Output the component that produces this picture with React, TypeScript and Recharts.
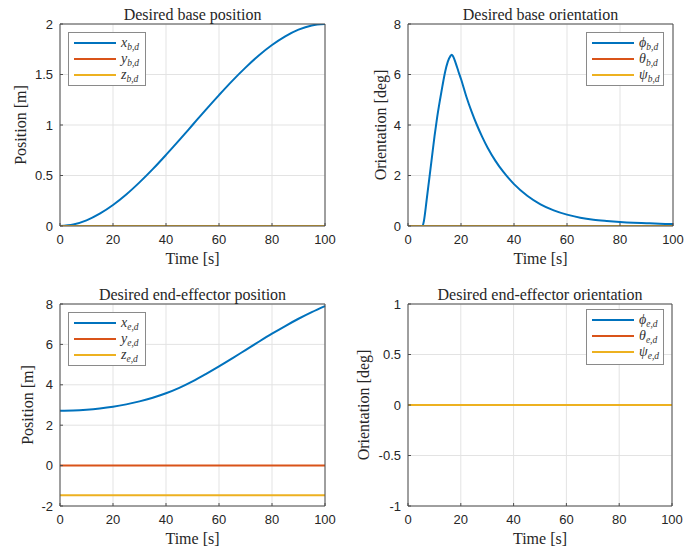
import React from "react";
import { CartesianGrid, Legend, Line, LineChart, XAxis, YAxis } from "recharts";

// MATLAB default colour order
const BLUE = "#0072BD";
const ORANGE = "#D95319";
const YELLOW = "#EDB120";

const timeTicks = [0, 20, 40, 60, 80, 100];
const flatT = [0, 100];

// desired base position
const basePosT = [0, 5, 10, 15, 20, 25, 30, 35, 40, 45, 50, 55, 60, 65, 70, 75, 80, 85, 90, 95, 100];
const basePosX = [0, 0.015, 0.056, 0.122, 0.208, 0.312, 0.432, 0.563, 0.704, 0.85, 1.0, 1.15, 1.296, 1.437, 1.568, 1.688, 1.792, 1.878, 1.944, 1.986, 2.0];
const basePosY = [0, 0];
const basePosZ = [0, 0];

// desired base orientation
const baseOriT = [0, 5.5, 6, 7, 8, 9, 10, 11, 12, 13, 14, 15, 16, 16.5, 17, 18, 19, 20, 22, 24, 26, 28, 30, 33, 36, 40, 45, 50, 55, 60, 65, 70, 75, 80, 85, 90, 95, 100];
const baseOriPhi = [0, 0, 0.2, 1.0, 1.85, 2.7, 3.55, 4.3, 4.95, 5.55, 6.1, 6.5, 6.73, 6.78, 6.72, 6.45, 6.13, 5.82, 5.13, 4.53, 4.0, 3.53, 3.11, 2.58, 2.14, 1.66, 1.2, 0.86, 0.62, 0.45, 0.33, 0.25, 0.2, 0.16, 0.13, 0.11, 0.09, 0.08];
const baseOriTheta = [0, 0];
const baseOriPsi = [0, 0];

// desired end-effector position
const eePosT = [0, 5, 10, 15, 20, 25, 30, 35, 40, 45, 50, 55, 60, 65, 70, 75, 80, 85, 90, 95, 100];
const eePosX = [2.72, 2.73, 2.765, 2.825, 2.91, 3.03, 3.18, 3.36, 3.58, 3.85, 4.17, 4.53, 4.91, 5.31, 5.72, 6.13, 6.53, 6.91, 7.27, 7.6, 7.9];
const eePosY = [0, 0];
const eePosZ = [-1.47, -1.47];

// desired end-effector orientation
const eeOriPhi = [0, 0];
const eeOriTheta = [0, 0];
const eeOriPsi = [0, 0];

const rows = (t: number[], v: number[]) => t.map((tt, i) => ({ t: tt, v: v[i] }));

const SERIF = '"Liberation Serif", "Times New Roman", serif';
const SANS = '"Liberation Sans", Arial, sans-serif';
const INK = "#262626";
const FRAME = "#4d4d4d";

interface Series {
  data: { t: number; v: number }[];
  color: string;
  sym: string;
  sub: string;
}

interface PanelProps {
  title: string;
  ylabel: string;
  yDomain: [number, number];
  yTicks: number[];
  series: Series[];
  plot: { left: number; right: number; top: number; bottom: number };
  ylabX: number;
  legend: { left: number; top: number; height: number };
}

const W = 350;
const H = 275;
const noLabel = () => <g />;

function LegendBox({ series, height }: { series: Series[]; height: number }) {
  return (
    <div
      style={{
        width: 78,
        height,
        boxSizing: "border-box",
        border: "1px solid #8a8a8a",
        background: "#fff",
        paddingTop: 2,
      }}
    >
      {series.map((s) => (
        <div key={s.sym} style={{ display: "flex", alignItems: "center", height: 16 }}>
          <div style={{ marginLeft: 5, width: 42, height: 2, background: s.color }} />
          <span
            style={{
              marginLeft: 5,
              fontFamily: SERIF,
              fontStyle: "italic",
              fontSize: 14,
              color: "#333",
              lineHeight: "16px",
              whiteSpace: "nowrap",
            }}
          >
            {s.sym}
            <span style={{ fontSize: 9.5, position: "relative", top: 3 }}>{s.sub}</span>
          </span>
        </div>
      ))}
    </div>
  );
}

function Panel({ title, ylabel, yDomain, yTicks, series, plot, ylabX, legend }: PanelProps) {
  return (
    <LineChart width={W} height={H} margin={{ top: 0, right: 0, bottom: 0, left: 0 }}>
      <CartesianGrid xAxisId="b" yAxisId="l" stroke="#e3e3e3" />
      <XAxis
        xAxisId="b"
        dataKey="t"
        type="number"
        domain={[0, 100]}
        ticks={timeTicks}
        interval={0}
        height={H - plot.bottom}
        axisLine={{ stroke: FRAME }}
        tickLine={{ stroke: FRAME }}
        tickSize={-3}
        tickMargin={12}
        tick={{ fontFamily: SANS, fontSize: 13, fill: INK }}
        label={(p: any) => (
          <text
            x={p.viewBox.x + p.viewBox.width / 2}
            y={p.viewBox.y + 32}
            textAnchor="middle"
            dominantBaseline="central"
            fontFamily={SERIF}
            fontSize={16}
            fill={INK}
          >
            Time [s]
          </text>
        )}
      />
      <XAxis
        xAxisId="t"
        orientation="top"
        dataKey="t"
        type="number"
        domain={[0, 100]}
        ticks={timeTicks}
        interval={0}
        height={plot.top}
        axisLine={{ stroke: FRAME }}
        tickLine={{ stroke: FRAME }}
        tickSize={-3}
        tick={noLabel}
        label={(p: any) => (
          <text
            x={p.viewBox.x + p.viewBox.width / 2}
            y={p.viewBox.y + p.viewBox.height - 10}
            textAnchor="middle"
            dominantBaseline="central"
            fontFamily={SERIF}
            fontSize={16}
            fill={INK}
          >
            {title}
          </text>
        )}
      />
      <YAxis
        yAxisId="l"
        type="number"
        domain={yDomain}
        ticks={yTicks}
        interval={0}
        width={plot.left}
        axisLine={{ stroke: FRAME }}
        tickLine={{ stroke: FRAME }}
        tickSize={-3}
        tickMargin={10}
        allowDataOverflow
        tick={{ fontFamily: SANS, fontSize: 13, fill: INK }}
        label={(p: any) => {
          const x = p.viewBox.x + ylabX;
          const y = p.viewBox.y + p.viewBox.height / 2;
          return (
            <text
              x={x}
              y={y}
              transform={`rotate(-90, ${x}, ${y})`}
              textAnchor="middle"
              dominantBaseline="central"
              fontFamily={SERIF}
              fontSize={16}
              fill={INK}
            >
              {ylabel}
            </text>
          );
        }}
      />
      <YAxis
        yAxisId="r"
        orientation="right"
        type="number"
        domain={yDomain}
        ticks={yTicks}
        interval={0}
        width={W - plot.right}
        axisLine={{ stroke: FRAME }}
        tickLine={{ stroke: FRAME }}
        tickSize={-3}
        tick={noLabel}
      />
      {series.map((s) => (
        <Line
          key={s.sym}
          xAxisId="b"
          yAxisId="l"
          data={s.data}
          dataKey="v"
          type="monotone"
          stroke={s.color}
          strokeWidth={2}
          dot={false}
          isAnimationActive={false}
        />
      ))}
      <Legend
        layout="vertical"
        align="center"
        verticalAlign="middle"
        wrapperStyle={{ left: legend.left, top: legend.top, width: 78, height: legend.height }}
        content={() => <LegendBox series={series} height={legend.height} />}
      />
    </LineChart>
  );
}

export default function App() {
  return (
    <div
      style={{
        position: "absolute",
        left: 0,
        top: 0,
        width: 700,
        height: 550,
        background: "#fff",
      }}
    >
      <div style={{ position: "absolute", left: 0, top: 0 }}>
        <Panel
          title="Desired base position"
          ylabel="Position [m]"
          yDomain={[0, 2]}
          yTicks={[0, 0.5, 1, 1.5, 2]}
          plot={{ left: 60, right: 325, top: 24, bottom: 226 }}
          ylabX={20}
          legend={{ left: 68, top: 32, height: 54 }}
          series={[
            { data: rows(basePosT, basePosX), color: BLUE, sym: "x", sub: "b,d" },
            { data: rows(flatT, basePosY), color: ORANGE, sym: "y", sub: "b,d" },
            { data: rows(flatT, basePosZ), color: YELLOW, sym: "z", sub: "b,d" },
          ]}
        />
      </div>
      <div style={{ position: "absolute", left: 350, top: 0 }}>
        <Panel
          title="Desired base orientation"
          ylabel="Orientation [deg]"
          yDomain={[0, 8]}
          yTicks={[0, 2, 4, 6, 8]}
          plot={{ left: 58, right: 323, top: 24, bottom: 226 }}
          ylabX={30}
          legend={{ left: 236, top: 32, height: 54 }}
          series={[
            { data: rows(baseOriT, baseOriPhi), color: BLUE, sym: "ϕ", sub: "b,d" },
            { data: rows(flatT, baseOriTheta), color: ORANGE, sym: "θ", sub: "b,d" },
            { data: rows(flatT, baseOriPsi), color: YELLOW, sym: "ψ", sub: "b,d" },
          ]}
        />
      </div>
      <div style={{ position: "absolute", left: 0, top: 275 }}>
        <Panel
          title="Desired end-effector position"
          ylabel="Position [m]"
          yDomain={[-2, 8]}
          yTicks={[-2, 0, 2, 4, 6, 8]}
          plot={{ left: 60, right: 325, top: 29, bottom: 231 }}
          ylabX={27}
          legend={{ left: 68, top: 37, height: 54 }}
          series={[
            { data: rows(eePosT, eePosX), color: BLUE, sym: "x", sub: "e,d" },
            { data: rows(flatT, eePosY), color: ORANGE, sym: "y", sub: "e,d" },
            { data: rows(flatT, eePosZ), color: YELLOW, sym: "z", sub: "e,d" },
          ]}
        />
      </div>
      <div style={{ position: "absolute", left: 350, top: 275 }}>
        <Panel
          title="Desired end-effector orientation"
          ylabel="Orientation [deg]"
          yDomain={[-1, 1]}
          yTicks={[-1, -0.5, 0, 0.5, 1]}
          plot={{ left: 58, right: 322, top: 29, bottom: 231 }}
          ylabX={13}
          legend={{ left: 236, top: 34, height: 56 }}
          series={[
            { data: rows(flatT, eeOriPhi), color: BLUE, sym: "ϕ", sub: "e,d" },
            { data: rows(flatT, eeOriTheta), color: ORANGE, sym: "θ", sub: "e,d" },
            { data: rows(flatT, eeOriPsi), color: YELLOW, sym: "ψ", sub: "e,d" },
          ]}
        />
      </div>
    </div>
  );
}
